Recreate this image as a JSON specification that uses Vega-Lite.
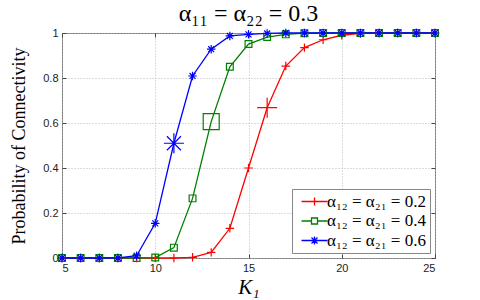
{
  "$schema": "https://vega.github.io/schema/vega-lite/v6.json",
  "autosize": {"type": "none"},
  "width": 373,
  "height": 225,
  "padding": {"left": 62, "top": 33, "right": 45, "bottom": 42},
  "background": "white",
  "title": {"text": "α₁₁ = α₂₂ = 0.3", "font": "Liberation Serif", "fontSize": 24, "fontWeight": "normal", "color": "#000", "offset": 4, "dy": 4},
  "config": {
    "view": {"stroke": "#777", "strokeWidth": 1},
    "axis": {"domain": false, "tickColor": "#444", "tickSize": -4, "labelFont": "Liberation Sans", "labelFontSize": 11, "labelColor": "#222", "gridColor": "#b8b8b8", "gridDash": [1, 2], "titleFontWeight": "normal", "titleColor": "#000"}
  },
  "resolve": {"axis": {"x": "independent", "y": "independent"}},
  "data": {"values": [
    {"k": 5, "p": 0, "s": "α₁₂ = α₂₁ = 0.2", "big": false},
    {"k": 6, "p": 0, "s": "α₁₂ = α₂₁ = 0.2", "big": false},
    {"k": 7, "p": 0, "s": "α₁₂ = α₂₁ = 0.2", "big": false},
    {"k": 8, "p": 0, "s": "α₁₂ = α₂₁ = 0.2", "big": false},
    {"k": 9, "p": 0, "s": "α₁₂ = α₂₁ = 0.2", "big": false},
    {"k": 10, "p": 0, "s": "α₁₂ = α₂₁ = 0.2", "big": false},
    {"k": 11, "p": 0, "s": "α₁₂ = α₂₁ = 0.2", "big": false},
    {"k": 12, "p": 0.003, "s": "α₁₂ = α₂₁ = 0.2", "big": false},
    {"k": 13, "p": 0.025, "s": "α₁₂ = α₂₁ = 0.2", "big": false},
    {"k": 14, "p": 0.132, "s": "α₁₂ = α₂₁ = 0.2", "big": false},
    {"k": 15, "p": 0.4, "s": "α₁₂ = α₂₁ = 0.2", "big": false},
    {"k": 16, "p": 0.668, "s": "α₁₂ = α₂₁ = 0.2", "big": true},
    {"k": 17, "p": 0.853, "s": "α₁₂ = α₂₁ = 0.2", "big": false},
    {"k": 18, "p": 0.935, "s": "α₁₂ = α₂₁ = 0.2", "big": false},
    {"k": 19, "p": 0.97, "s": "α₁₂ = α₂₁ = 0.2", "big": false},
    {"k": 20, "p": 0.99, "s": "α₁₂ = α₂₁ = 0.2", "big": false},
    {"k": 21, "p": 0.998, "s": "α₁₂ = α₂₁ = 0.2", "big": false},
    {"k": 22, "p": 1, "s": "α₁₂ = α₂₁ = 0.2", "big": false},
    {"k": 23, "p": 1, "s": "α₁₂ = α₂₁ = 0.2", "big": false},
    {"k": 24, "p": 1, "s": "α₁₂ = α₂₁ = 0.2", "big": false},
    {"k": 25, "p": 1, "s": "α₁₂ = α₂₁ = 0.2", "big": false},
    {"k": 5, "p": 0, "s": "α₁₂ = α₂₁ = 0.4", "big": false},
    {"k": 6, "p": 0, "s": "α₁₂ = α₂₁ = 0.4", "big": false},
    {"k": 7, "p": 0, "s": "α₁₂ = α₂₁ = 0.4", "big": false},
    {"k": 8, "p": 0, "s": "α₁₂ = α₂₁ = 0.4", "big": false},
    {"k": 9, "p": 0, "s": "α₁₂ = α₂₁ = 0.4", "big": false},
    {"k": 10, "p": 0.002, "s": "α₁₂ = α₂₁ = 0.4", "big": false},
    {"k": 11, "p": 0.046, "s": "α₁₂ = α₂₁ = 0.4", "big": false},
    {"k": 12, "p": 0.265, "s": "α₁₂ = α₂₁ = 0.4", "big": false},
    {"k": 13, "p": 0.606, "s": "α₁₂ = α₂₁ = 0.4", "big": true},
    {"k": 14, "p": 0.85, "s": "α₁₂ = α₂₁ = 0.4", "big": false},
    {"k": 15, "p": 0.951, "s": "α₁₂ = α₂₁ = 0.4", "big": false},
    {"k": 16, "p": 0.982, "s": "α₁₂ = α₂₁ = 0.4", "big": false},
    {"k": 17, "p": 0.994, "s": "α₁₂ = α₂₁ = 0.4", "big": false},
    {"k": 18, "p": 0.999, "s": "α₁₂ = α₂₁ = 0.4", "big": false},
    {"k": 19, "p": 1, "s": "α₁₂ = α₂₁ = 0.4", "big": false},
    {"k": 20, "p": 1, "s": "α₁₂ = α₂₁ = 0.4", "big": false},
    {"k": 21, "p": 1, "s": "α₁₂ = α₂₁ = 0.4", "big": false},
    {"k": 22, "p": 1, "s": "α₁₂ = α₂₁ = 0.4", "big": false},
    {"k": 23, "p": 1, "s": "α₁₂ = α₂₁ = 0.4", "big": false},
    {"k": 24, "p": 1, "s": "α₁₂ = α₂₁ = 0.4", "big": false},
    {"k": 25, "p": 1, "s": "α₁₂ = α₂₁ = 0.4", "big": false},
    {"k": 5, "p": 0, "s": "α₁₂ = α₂₁ = 0.6", "big": false},
    {"k": 6, "p": 0, "s": "α₁₂ = α₂₁ = 0.6", "big": false},
    {"k": 7, "p": 0, "s": "α₁₂ = α₂₁ = 0.6", "big": false},
    {"k": 8, "p": 0, "s": "α₁₂ = α₂₁ = 0.6", "big": false},
    {"k": 9, "p": 0.01, "s": "α₁₂ = α₂₁ = 0.6", "big": false},
    {"k": 10, "p": 0.154, "s": "α₁₂ = α₂₁ = 0.6", "big": false},
    {"k": 11, "p": 0.51, "s": "α₁₂ = α₂₁ = 0.6", "big": true},
    {"k": 12, "p": 0.809, "s": "α₁₂ = α₂₁ = 0.6", "big": false},
    {"k": 13, "p": 0.928, "s": "α₁₂ = α₂₁ = 0.6", "big": false},
    {"k": 14, "p": 0.987, "s": "α₁₂ = α₂₁ = 0.6", "big": false},
    {"k": 15, "p": 0.994, "s": "α₁₂ = α₂₁ = 0.6", "big": false},
    {"k": 16, "p": 0.998, "s": "α₁₂ = α₂₁ = 0.6", "big": false},
    {"k": 17, "p": 1, "s": "α₁₂ = α₂₁ = 0.6", "big": false},
    {"k": 18, "p": 1, "s": "α₁₂ = α₂₁ = 0.6", "big": false},
    {"k": 19, "p": 1, "s": "α₁₂ = α₂₁ = 0.6", "big": false},
    {"k": 20, "p": 1, "s": "α₁₂ = α₂₁ = 0.6", "big": false},
    {"k": 21, "p": 1, "s": "α₁₂ = α₂₁ = 0.6", "big": false},
    {"k": 22, "p": 1, "s": "α₁₂ = α₂₁ = 0.6", "big": false},
    {"k": 23, "p": 1, "s": "α₁₂ = α₂₁ = 0.6", "big": false},
    {"k": 24, "p": 1, "s": "α₁₂ = α₂₁ = 0.6", "big": false},
    {"k": 25, "p": 1, "s": "α₁₂ = α₂₁ = 0.6", "big": false}
  ]},
  "layer": [
    {"mark": {"type": "point", "opacity": 0},
      "encoding": {
        "x": {"field": "k", "type": "quantitative", "scale": {"domain": [5, 25], "nice": false},
          "axis": {"orient": "top", "values": [5, 10, 15, 20, 25], "labels": false, "grid": true, "title": null}},
        "y": {"field": "p", "type": "quantitative", "scale": {"domain": [0, 1], "nice": false},
          "axis": {"orient": "right", "values": [0, 0.2, 0.4, 0.6, 0.8, 1], "labels": false, "grid": true, "title": null}}
      }},
    {"mark": {"type": "line", "strokeWidth": 1.3},
      "encoding": {
        "x": {"field": "k", "type": "quantitative", "scale": {"domain": [5, 25], "nice": false},
          "axis": {"values": [5, 10, 15, 20, 25], "grid": false, "title": "K₁", "titleFont": "Liberation Serif", "titleFontStyle": "italic", "titleFontSize": 21, "titlePadding": 3, "labelPadding": 8}},
        "y": {"field": "p", "type": "quantitative", "scale": {"domain": [0, 1], "nice": false},
          "axis": {"values": [0, 0.2, 0.4, 0.6, 0.8, 1], "grid": false, "format": "~g", "title": "Probability of Connectivity", "titleFont": "Liberation Serif", "titleFontSize": 18, "titlePadding": 14, "labelPadding": 8}},
        "color": {"field": "s", "type": "nominal", "scale": {"range": ["#ff0000", "#008000", "#0000ff"]}, "title": null,
        "legend": {"orient": "none", "legendX": 230, "legendY": 156, "fillColor": "white", "strokeColor": "#888", "padding": 4, "rowPadding": 1.5,
          "labelFont": "Liberation Serif", "labelFontSize": 17, "labelColor": "#000", "labelOffset": 4, "symbolSize": 100, "symbolOffset": 10, "symbolStrokeWidth": 1.3,
          "encode": {"symbols": {"update": {"shape": {"signal": "datum.index === 0 ? 'M-2.6,0H2.6M0,-0.8V0.8' : datum.index === 1 ? 'M-2.6,0H-0.6M0.6,0H2.6M-0.6,-0.6H0.6V0.6H-0.6Z' : 'M-2.6,0H2.6M0,-0.8V0.8M-0.6,-0.6L0.6,0.6M-0.6,0.6L0.6,-0.6'"}, "fill": {"value": "transparent"}}}}}}}},
    {"mark": {"type": "point", "filled": false, "strokeWidth": 1.2, "opacity": 1},
      "encoding": {
        "x": {"field": "k", "type": "quantitative", "axis": null},
        "y": {"field": "p", "type": "quantitative", "axis": null},
        "color": {"field": "s", "type": "nominal", "legend": null},
        "shape": {"field": "s", "type": "nominal", "scale": {"range": ["M-1,0H1M0,-1V1", "M-0.8,-0.8H0.8V0.8H-0.8Z", "M-1,0H1M0,-1V1M-0.7,-0.7L0.7,0.7M-0.7,0.7L0.7,-0.7"]}, "legend": null},
        "size": {"condition": {"test": "datum.big", "value": 400}, "value": 72}
      }}
  ]
}
